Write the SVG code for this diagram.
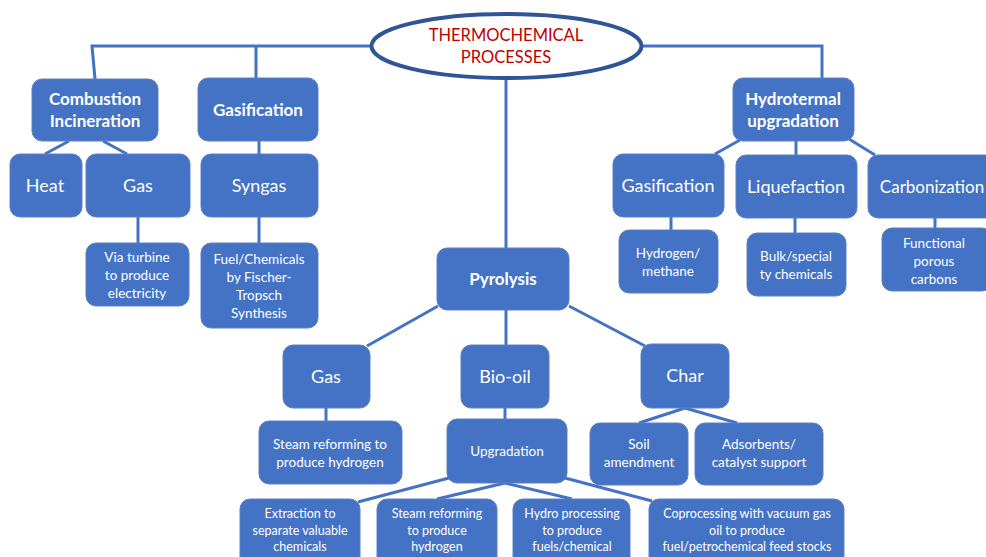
<svg xmlns="http://www.w3.org/2000/svg" width="986" height="557" viewBox="0 0 986 557">
<style>
.b{fill:#4472C4;stroke:#5F80BE;stroke-width:1}
.t{font-family:Lato,"Liberation Sans",sans-serif;fill:#fff;text-anchor:middle}
.h{font-weight:bold;font-size:17px}
.m{font-size:18px}
.s{font-size:13.5px}
.x{font-size:12.5px}
.c{stroke:#4472C4;stroke-width:3;fill:none}
</style>
<rect width="986" height="557" fill="#fff"/>
<g id="connectors">
<path class="c" d="M370,46 H92 L95,79 M256,46 V78 M643,46 H822 V78 M506,79 V248"/>
<path class="c" d="M69,141 L45,154 M103,141 L127,154 M259,141 V154 M138,217 V243 M259,217 V243"/>
<path class="c" d="M740,140 L715,154 M796,141 V155 M849,139 L875,155 M671,217 V230 M795,218 V233 M935,218 V228"/>
<path class="c" d="M438,306 L367,346 M506,310 V345 M569,306 L645,346 M326,408 V421 M505,408 V419 M685,408 L639,423 M685,408 L737,423"/>
<path class="c" d="M449,478 L358,502 M505,483 L437,499 M505,483 L572,499 M565,478 L652,501"/>
</g>
<g id="title">
<ellipse cx="506.5" cy="46" rx="135" ry="32" fill="#fff" stroke="#2F5597" stroke-width="4"/>
<text x="506" y="41" font-family="Lato,'Liberation Sans',sans-serif" font-size="16.5" fill="#C00000" text-anchor="middle">THERMOCHEMICAL</text>
<text x="506" y="63" font-family="Lato,'Liberation Sans',sans-serif" font-size="16.5" fill="#C00000" text-anchor="middle">PROCESSES</text>
</g>
<g id="combustion"><rect class="b" x="32" y="79" width="126" height="62" rx="10"/><text class="t h" x="95" y="105">Combustion</text><text class="t h" x="95" y="127">Incineration</text></g>
<g id="gasification1"><rect class="b" x="198" y="78" width="120" height="63" rx="10"/><text class="t h" x="258" y="116">Gasification</text></g>
<g id="heat"><rect class="b" x="10" y="154" width="72" height="63" rx="10"/><text class="t m" x="45" y="192">Heat</text></g>
<g id="gas1"><rect class="b" x="86" y="154" width="104" height="63" rx="10"/><text class="t m" x="138" y="192">Gas</text></g>
<g id="syngas"><rect class="b" x="201" y="154" width="117" height="63" rx="10"/><text class="t m" x="259" y="192">Syngas</text></g>
<g id="turbine"><rect class="b" x="86" y="243" width="103" height="63" rx="10"/><text class="t s" x="137" y="262">Via turbine</text><text class="t s" x="137" y="280">to produce</text><text class="t s" x="137" y="298">electricity</text></g>
<g id="fuel"><rect class="b" x="201" y="243" width="117" height="85" rx="10"/><text class="t s" x="259" y="264">Fuel/Chemicals</text><text class="t s" x="259" y="282">by Fischer-</text><text class="t s" x="259" y="300">Tropsch</text><text class="t s" x="259" y="318">Synthesis</text></g>
<g id="hydrotermal"><rect class="b" x="733" y="78" width="121" height="63" rx="10"/><text class="t h" x="793" y="105">Hydrotermal</text><text class="t h" x="793" y="127">upgradation</text></g>
<g id="gasification2"><rect class="b" x="613" y="154" width="111" height="63" rx="10"/><text class="t m" x="668" y="192">Gasification</text></g>
<g id="liquefaction"><rect class="b" x="736" y="155" width="121" height="63" rx="10"/><text class="t m" x="796" y="193">Liquefaction</text></g>
<g id="carbonization"><rect class="b" x="868" y="155" width="130" height="63" rx="10"/><text class="t" font-size="17" x="932" y="193">Carbonization</text></g>
<g id="hydrogen"><rect class="b" x="619" y="230" width="99" height="63" rx="10"/><text class="t s" x="668" y="258">Hydrogen/</text><text class="t s" x="668" y="276">methane</text></g>
<g id="bulk"><rect class="b" x="747" y="233" width="99" height="63" rx="10"/><text class="t s" x="796" y="261">Bulk/special</text><text class="t s" x="796" y="279">ty chemicals</text></g>
<g id="functional"><rect class="b" x="882" y="228" width="110" height="63" rx="10"/><text class="t s" x="934" y="248">Functional</text><text class="t s" x="934" y="266">porous</text><text class="t s" x="934" y="284">carbons</text></g>
<g id="pyrolysis"><rect class="b" x="437" y="248" width="132" height="62" rx="10"/><text class="t h" x="503" y="285">Pyrolysis</text></g>
<g id="gas2"><rect class="b" x="283" y="345" width="87" height="63" rx="10"/><text class="t m" x="326" y="383">Gas</text></g>
<g id="biooil"><rect class="b" x="461" y="345" width="88" height="63" rx="10"/><text class="t m" x="505" y="383">Bio-oil</text></g>
<g id="char"><rect class="b" x="641" y="344" width="88" height="64" rx="10"/><text class="t m" x="685" y="382">Char</text></g>
<g id="steam1"><rect class="b" x="259" y="421" width="143" height="63" rx="10"/><text class="t s" x="330" y="449">Steam reforming to</text><text class="t s" x="330" y="467">produce hydrogen</text></g>
<g id="upgradation"><rect class="b" x="447" y="419" width="120" height="64" rx="10"/><text class="t s" x="507" y="456">Upgradation</text></g>
<g id="soil"><rect class="b" x="590" y="423" width="98" height="62" rx="10"/><text class="t s" x="639" y="449">Soil</text><text class="t s" x="639" y="467">amendment</text></g>
<g id="adsorbents"><rect class="b" x="695" y="423" width="128" height="62" rx="10"/><text class="t s" x="759" y="449">Adsorbents/</text><text class="t s" x="759" y="467">catalyst support</text></g>
<g id="extraction"><rect class="b" x="240" y="499" width="120" height="70" rx="10"/><text class="t x" x="300" y="518">Extraction to</text><text class="t x" x="300" y="535">separate valuable</text><text class="t x" x="300" y="551">chemicals</text></g>
<g id="steam2"><rect class="b" x="377" y="499" width="120" height="70" rx="10"/><text class="t x" x="437" y="518">Steam reforming</text><text class="t x" x="437" y="535">to produce</text><text class="t x" x="437" y="551">hydrogen</text></g>
<g id="hydroprocessing"><rect class="b" x="513" y="499" width="117" height="70" rx="10"/><text class="t x" x="572" y="518">Hydro processing</text><text class="t x" x="572" y="535">to produce</text><text class="t x" x="572" y="551">fuels/chemical</text></g>
<g id="coprocessing"><rect class="b" x="649" y="499" width="195" height="70" rx="10"/><text class="t x" x="747" y="518">Coprocessing with vacuum gas</text><text class="t x" x="747" y="535">oil to produce</text><text class="t x" x="747" y="551">fuel/petrochemical feed stocks</text></g>
</svg>
